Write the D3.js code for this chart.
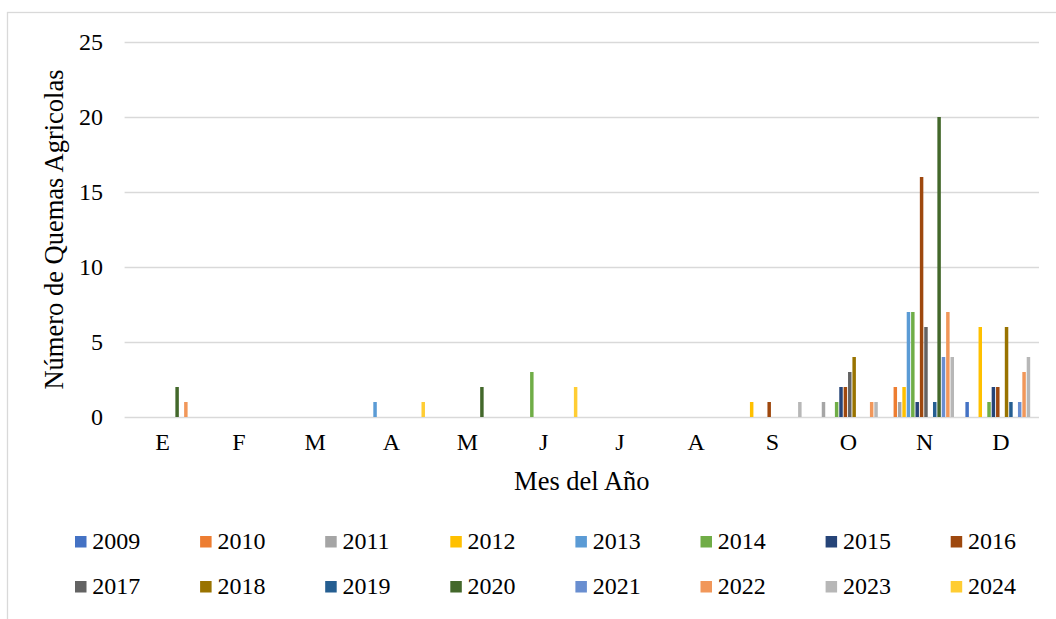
<!DOCTYPE html>
<html>
<head>
<meta charset="utf-8">
<script src="https://cdn.jsdelivr.net/npm/d3@7"></script>
<style>
  html, body { margin: 0; padding: 0; background: #fff; }
  svg { display: block; font-family: "Liberation Serif", "Times New Roman", serif; }
</style>
</head>
<body>
<svg id="chart" width="1056" height="619"></svg>
<script>
// Month initials (Spanish) for the category axis
const months = ["E", "F", "M", "A", "M", "J", "J", "A", "S", "O", "N", "D"];
const years = ["2009", "2010", "2011", "2012", "2013", "2014", "2015", "2016",
               "2017", "2018", "2019", "2020", "2021", "2022", "2023", "2024"];
const colors = ["#4472C4", "#ED7D31", "#A5A5A5", "#FFC000", "#5B9BD5", "#70AD47",
                "#264478", "#9E480E", "#636363", "#997300", "#255E91", "#43682B",
                "#698ED0", "#F1975A", "#B7B7B7", "#FFCD33"];
const yTicks = [0, 5, 10, 15, 20, 25];

// Number of agricultural burns per month, one array per year (E..D)
const q2009 = [0, 0, 0, 0, 0, 0, 0, 0, 0, 0, 0, 1];
const q2010 = [0, 0, 0, 0, 0, 0, 0, 0, 0, 0, 2, 0];
const q2011 = [0, 0, 0, 0, 0, 0, 0, 0, 0, 1, 1, 0];
const q2012 = [0, 0, 0, 0, 0, 0, 0, 0, 1, 0, 2, 6];
const q2013 = [0, 0, 0, 1, 0, 0, 0, 0, 0, 0, 7, 0];
const q2014 = [0, 0, 0, 0, 0, 3, 0, 0, 0, 1, 7, 1];
const q2015 = [0, 0, 0, 0, 0, 0, 0, 0, 0, 2, 1, 2];
const q2016 = [0, 0, 0, 0, 0, 0, 0, 0, 1, 2, 16, 2];
const q2017 = [0, 0, 0, 0, 0, 0, 0, 0, 0, 3, 6, 0];
const q2018 = [0, 0, 0, 0, 0, 0, 0, 0, 0, 4, 0, 6];
const q2019 = [0, 0, 0, 0, 0, 0, 0, 0, 0, 0, 1, 1];
const q2020 = [2, 0, 0, 0, 2, 0, 0, 0, 0, 0, 20, 0];
const q2021 = [0, 0, 0, 0, 0, 0, 0, 0, 0, 0, 4, 1];
const q2022 = [1, 0, 0, 0, 0, 0, 0, 0, 0, 1, 7, 3];
const q2023 = [0, 0, 0, 0, 0, 0, 0, 0, 1, 1, 4, 4];
const q2024 = [0, 0, 0, 1, 0, 2, 0, 0, 0, 0, 0, 0];

const seriesValues = [q2009, q2010, q2011, q2012, q2013, q2014, q2015, q2016,
                      q2017, q2018, q2019, q2020, q2021, q2022, q2023, q2024];

const svg = d3.select("#chart");
const gridColor = "#D9D9D9";
const plot = { left: 124.6, right: 1039, top: 42, bottom: 417 };

// Chart-area frame
svg.append("rect")
  .attr("x", 7.5).attr("y", 12.5)
  .attr("width", 1200).attr("height", 800)
  .attr("fill", "none").attr("stroke", gridColor).attr("stroke-width", 1.3);

const x0 = d3.scaleBand()
  .domain(d3.range(months.length))
  .range([plot.left, plot.right])
  .paddingInner(0).paddingOuter(0);

const x1 = d3.scaleBand()
  .domain(years)
  .range([0, x0.bandwidth()])
  .paddingInner(0).paddingOuter(0.7).align(0.35);

const y = d3.scaleLinear().domain([0, 25]).range([plot.bottom, plot.top]);

// Horizontal gridlines
svg.append("g")
  .selectAll("line")
  .data(yTicks)
  .join("line")
  .attr("x1", plot.left).attr("x2", plot.right)
  .attr("y1", d => Math.round(y(d)) + 0.5).attr("y2", d => Math.round(y(d)) + 0.5)
  .attr("stroke", gridColor).attr("stroke-width", 1.3);

// Y axis labels
const yAxis = svg.append("g")
  .attr("transform", `translate(${plot.left},0)`)
  .call(d3.axisLeft(y).tickValues(yTicks).tickSize(0).tickPadding(21.5));
yAxis.select(".domain").remove();
yAxis.selectAll("text")
  .attr("font-size", 24)
  .attr("fill", "#000")
  .attr("font-family", "'Liberation Serif', 'Times New Roman', serif");

// Clustered bars
const groups = svg.append("g")
  .selectAll("g")
  .data(seriesValues)
  .join("g")
  .attr("fill", (d, i) => colors[i]);

const barW = x1.bandwidth() - 0.9;
groups.selectAll("rect")
  .data((vals, si) => vals.map((v, mi) => ({ v, mi, year: years[si] })).filter(d => d.v > 0))
  .join("rect")
  .attr("x", d => x0(d.mi) + x1(d.year) + (x1.bandwidth() - barW) / 2)
  .attr("width", barW)
  .attr("y", d => y(d.v))
  .attr("height", d => y(0) - y(d.v));

// X axis (month initials)
const xAxis = svg.append("g")
  .attr("transform", `translate(0,${plot.bottom})`)
  .call(d3.axisBottom(x0).tickFormat(i => months[i]).tickSize(0).tickPadding(16));
xAxis.select(".domain").remove();
xAxis.selectAll("text")
  .attr("font-size", 24)
  .attr("fill", "#000")
  .attr("font-family", "'Liberation Serif', 'Times New Roman', serif");

// Axis titles
svg.append("text")
  .attr("x", (plot.left + plot.right) / 2).attr("y", 490)
  .attr("text-anchor", "middle")
  .attr("font-size", 26.5).attr("fill", "#000")
  .text("Mes del Año");

svg.append("text")
  .attr("transform", `translate(63,${(plot.top + plot.bottom) / 2}) rotate(-90)`)
  .attr("text-anchor", "middle")
  .attr("font-size", 26.5).attr("fill", "#000")
  .text("Número de Quemas Agricolas");

// Legend: two rows of eight
const legend = svg.append("g")
  .selectAll("g")
  .data(years)
  .join("g")
  .attr("transform", (d, i) => `translate(${75 + (i % 8) * 125.1},${i < 8 ? 536 : 581})`);

legend.append("rect")
  .attr("width", 11.5).attr("height", 11.5)
  .attr("fill", (d, i) => colors[i]);

legend.append("text")
  .attr("x", 17.3).attr("y", 13.3)
  .attr("font-size", 24).attr("fill", "#000")
  .text(d => d);
</script>
</body>
</html>
